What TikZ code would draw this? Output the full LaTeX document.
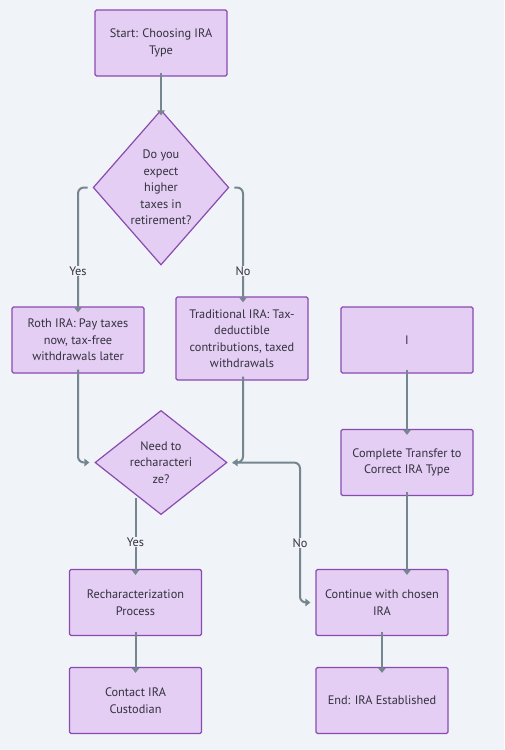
\documentclass[tikz,border=0pt]{standalone}
\usepackage{fontspec}
\setmainfont{PT Sans}
\usetikzlibrary{shapes.geometric,arrows.meta}
\definecolor{bg}{HTML}{F0F3F7}
\definecolor{boxfill}{HTML}{E4CEF3}
\definecolor{boxline}{HTML}{8A4BB0}
\definecolor{arrowc}{HTML}{76868F}
\definecolor{txt}{HTML}{33313F}
\tikzset{
  box/.style={draw=boxline, fill=boxfill, line width=1.2pt, rounded corners=1.5pt,
    minimum width=132pt, minimum height=66pt, align=center, text=txt,
    font=\fontsize{12.3pt}{16.5pt}\selectfont, inner sep=2pt},
  dia/.style={draw=boxline, fill=boxfill, line width=1.2pt, diamond,
    minimum width=132pt, minimum height=155pt, inner sep=0pt, align=center, text=txt,
    font=\fontsize{12.3pt}{16.5pt}\selectfont},
  arr/.style={draw=arrowc, line width=2pt, rounded corners=6pt,
    -{Triangle[length=5pt,width=7.5pt]}},
  lab/.style={fill=bg, text=txt, inner sep=1pt, font=\fontsize{12.3pt}{14pt}\selectfont},
}
\begin{document}
\begin{tikzpicture}[x=1pt,y=-1pt]
\fill[bg] (0,0) rectangle (504,750);
\useasboundingbox (0,0) rectangle (504,750);

\node[box] (start) at (161,43) {Start: Choosing IRA\\Type};
\node[dia] (d1) at (161,187.5) {Do you\\expect\\higher\\taxes in\\retirement?};
\node[box] (roth) at (78,340) {Roth IRA: Pay taxes\\now, tax-free\\withdrawals later};
\node[box, minimum height=83pt] (trad) at (242,338.5) {Traditional IRA: Tax-\\deductible\\contributions, taxed\\withdrawals};
\node[box] (ibox) at (407,340) {I};
\node[dia, minimum height=97pt] (d2) at (161,462.5) {Need to\\recharacteri\\ze?};
\node[box] (comp) at (407,462.5) {Complete Transfer to\\Correct IRA Type};
\node[box] (rech) at (135.5,602.5) {Recharacterization\\Process};
\node[box] (cont) at (382,602.5) {Continue with chosen\\IRA};
\node[box] (contact) at (135.5,700.5) {Contact IRA\\Custodian};
\node[box] (endn) at (382,700.5) {End: IRA Established};

\coordinate (y1) at (78,187.5);
\coordinate (n1) at (243,187.5);
\coordinate (n2) at (300,462.5);
\coordinate (y2) at (135.5,498);

\draw[arr] ([yshift=4pt]start.south) -- ([yshift=-6pt]d1.north);
\draw[arr] ([xshift=-5pt]d1.west) -- (y1) -- ([yshift=-6pt]roth.north);
\draw[arr] ([xshift=5pt]d1.east) -- (n1) -- ([yshift=-6pt]trad.north -| n1);
\draw[arr] ([yshift=4pt]roth.south) |- ([xshift=-5pt]d2.west);
\draw[arr] ([yshift=4pt]trad.south -| n1) |- ([xshift=5pt]d2.east);
\draw[arr] ([xshift=5pt]d2.east) -- (n2) |- ([xshift=-5pt]cont.west);
\draw[arr] (y2) -- ([yshift=-6pt]rech.north);
\draw[arr] ([yshift=4pt]rech.south) -- ([yshift=-6pt]contact.north);
\draw[arr] ([yshift=4pt]ibox.south) -- ([yshift=-6pt]comp.north);
\draw[arr] ([yshift=4pt]comp.south) -- ([yshift=-6pt]comp.south |- cont.north);
\draw[arr] ([yshift=4pt]cont.south) -- ([yshift=-6pt]endn.north);

\node[lab] (lyes1) at (78,271) {Yes};
\node[lab] (lno1) at (243,271) {No};
\node[lab] (lyes2) at (135.5,542) {Yes};
\node[lab] (lno2) at (300,543) {No};
\end{tikzpicture}
\end{document}
